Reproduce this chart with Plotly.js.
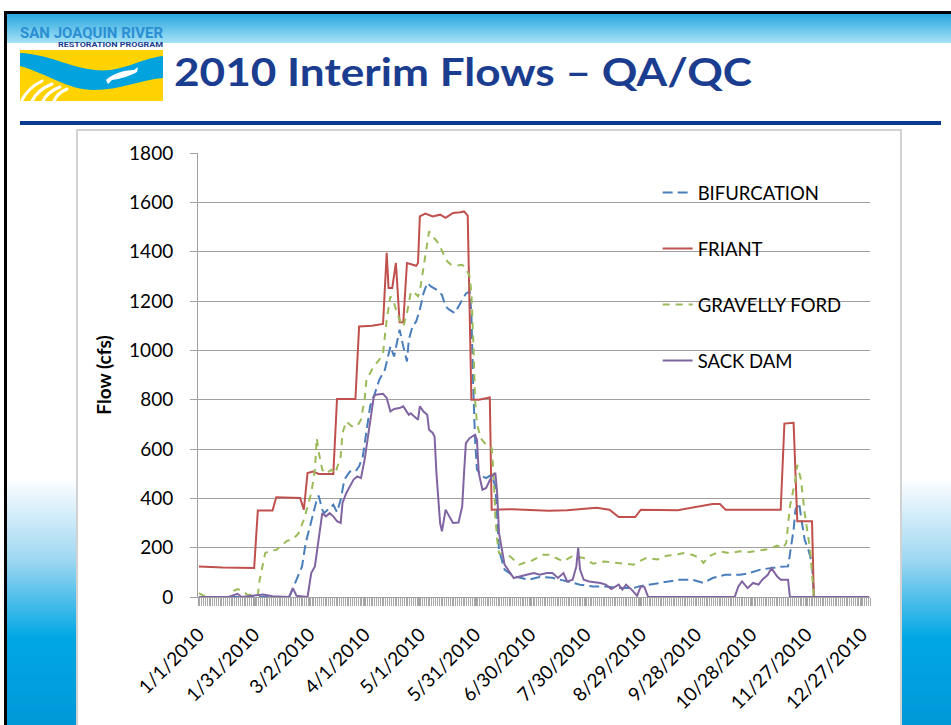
<!DOCTYPE html>
<html>
<head>
<meta charset="utf-8">
<script src="https://cdn.plot.ly/plotly-3.0.1.min.js"></script>
<style>
  html, body { margin: 0; padding: 0; background: #fff; }
  #slide { position: relative; width: 951px; height: 725px; overflow: hidden; background: #fff; }
  #deco { position: absolute; left: 0; top: 0; }
  #chart { position: absolute; left: 0; top: 0; width: 951px; height: 725px; }
</style>
</head>
<body>
<div id="slide">
<svg id="deco" width="951" height="725" xmlns="http://www.w3.org/2000/svg">
  <defs>
    <linearGradient id="topBand" x1="0" y1="0" x2="0" y2="1">
      <stop offset="0" stop-color="#27a6df"/>
      <stop offset="1" stop-color="#a6e2f6"/>
    </linearGradient>
    <linearGradient id="bottomBand" x1="0" y1="0" x2="0" y2="1">
      <stop offset="0" stop-color="#ffffff"/>
      <stop offset="0.03" stop-color="#ffffff"/>
      <stop offset="0.35" stop-color="#9fd7f2"/>
      <stop offset="0.66" stop-color="#00a7e3"/>
      <stop offset="1" stop-color="#0098d8"/>
    </linearGradient>
  </defs>
  <rect x="7" y="14" width="944" height="29" fill="url(#topBand)"/>
  <rect x="4" y="11" width="947" height="3" fill="#000"/>
  <rect x="4" y="11" width="3" height="714" fill="#000"/>
  <rect x="7" y="470" width="69" height="255" fill="url(#bottomBand)"/>
  <rect x="902" y="470" width="49" height="255" fill="url(#bottomBand)"/>
  <!-- logo -->
  <text x="20" y="37.5" font-family="Roboto, 'DejaVu Sans'" font-weight="bold" font-size="14" fill="#2a8fd2" textLength="143" lengthAdjust="spacingAndGlyphs">SAN JOAQUIN RIVER</text>
  <text x="58" y="47" font-family="Roboto, 'DejaVu Sans'" font-weight="bold" font-size="8" fill="#1b3d8f" textLength="105" lengthAdjust="spacingAndGlyphs">RESTORATION PROGRAM</text>
  <g transform="translate(20,50)">
    <rect x="0" y="0" width="143" height="51" fill="#ffd200"/>
    <path d="M0,3 C28,4 48,17 75,20 S118,9 143,6 L143,28 C120,30 100,40 74,40 S28,24 0,16 Z" fill="#00a3dd"/>
    <path d="M86,30 C92,24 104,20 114,20 L118,17 L117,22 C110,26 100,29 92,30 L88,34 Z" fill="#fff"/>
    <g stroke="#fff" stroke-width="3" fill="none" stroke-linecap="round">
      <path d="M2,50 C6,42 12,36 22,31"/>
      <path d="M12,51 C16,43 22,38 32,34"/>
      <path d="M23,51 C26,45 32,40 40,37"/>
      <path d="M34,51 C36,46 40,42 47,39"/>
    </g>
  </g>
  <text x="174" y="85.5" font-family="Lato, 'Open Sans'" font-weight="bold" font-size="39" fill="#1b3d8f" textLength="578" lengthAdjust="spacingAndGlyphs">2010 Interim Flows – QA/QC</text>
  <rect x="20" y="121" width="921" height="4" fill="#0b3a93"/>
  <rect x="77" y="130" width="824" height="610" fill="#fff" stroke="#d2d2d2" stroke-width="2"/>
</svg>
<div id="chart"></div>
</div>
<script>
// ---- data (day index: 0 = Jan 1, 2010) ----
const seriesNames = ["BIFURCATION", "FRIANT", "GRAVELLY FORD", "SACK DAM"];

const bifurcationDay = [0,49,50,53,56,58,61,64,65,67,68,70,73,75,77,79,82,85,87,89,91,93,95,98,101,103,104,106,108,109,111,113,114,116,118,120,122,124,126,129,132,134,136,139,141,143,145,147,148,149,150,151,154,156,159,161,162,163,166,171,179,185,192,200,207,214,221,229,236,239,247,254,261,268,274,279,286,294,299,305,310,315,320,321,323,324,326,327,329,331,333,334,364];
const bifurcationCfs = [0,0,16,70,124,219,313,394,411,354,340,354,374,344,394,476,509,509,530,570,678,773,813,881,921,989,1016,975,1043,1084,1016,955,1043,1097,1117,1165,1232,1273,1259,1246,1225,1178,1165,1151,1178,1205,1230,1239,1151,850,638,516,489,482,496,448,300,190,111,84,70,81,78,63,50,43,43,36,36,43,53,60,70,70,57,77,90,90,97,111,117,122,124,178,273,354,381,327,232,192,138,0,0];

const friantDay = [0,13,30,32,40,42,55,56,57,59,62,65,73,75,85,87,94,100,102,103,105,107,109,111,113,118,119,120,123,127,131,134,138,142,144,146,148,152,157,158,159,170,190,200,216,223,228,237,240,260,279,283,286,316,318,323,325,333,334,364];
const friantCfs = [124,120,118,351,351,404,401,380,354,503,509,499,499,803,803,1097,1100,1107,1395,1253,1253,1354,1114,1114,1354,1343,1354,1543,1554,1543,1550,1537,1557,1560,1563,1546,800,800,809,809,354,356,350,352,362,354,324,324,354,352,377,377,354,354,703,706,307,307,0,0];

const gravellyDay = [0,4,17,19,21,24,26,32,33,36,39,42,44,48,51,54,57,59,61,63,64,65,67,69,72,74,77,78,80,83,86,88,90,91,95,98,100,102,104,106,107,109,111,113,115,116,119,120,123,125,127,130,133,135,137,140,143,145,147,148,149,150,151,153,156,159,160,161,162,163,169,174,179,181,187,191,194,198,203,209,214,220,225,230,236,239,243,249,254,259,263,268,272,274,277,283,288,294,299,305,310,314,317,319,321,324,325,327,329,332,334,364];
const gravellyCfs = [16,0,0,25,32,25,10,8,70,178,189,190,205,228,234,257,313,367,421,516,644,590,516,500,516,500,570,665,712,692,692,719,800,881,935,962,989,1124,1219,1192,1165,1124,1097,1151,1232,1240,1219,1240,1381,1482,1462,1435,1388,1360,1347,1343,1347,1334,1300,1232,1043,800,705,644,617,604,503,327,232,178,165,131,145,148,171,171,158,144,167,158,135,144,140,135,131,144,158,152,167,171,178,171,158,138,165,185,178,185,182,189,195,208,198,219,367,476,536,476,340,192,0,0];

const sackDamDay = [0,16,21,23,29,35,40,49,51,53,59,61,63,65,67,69,71,73,75,77,78,80,82,84,86,88,90,92,94,95,96,100,102,104,106,109,111,114,115,117,119,120,122,124,125,127,128,129,131,132,134,135,138,141,143,144,145,147,150,151,152,154,156,159,161,162,163,166,171,178,182,185,189,192,195,198,200,203,205,206,207,209,212,218,221,224,228,230,232,235,238,240,242,244,291,293,295,298,301,304,306,309,311,314,316,320,321,364];
const sackDamCfs = [0,0,13,0,5,10,3,0,36,5,0,97,124,232,340,327,340,327,307,300,381,421,448,476,489,482,557,665,773,813,820,824,807,752,762,766,773,739,745,732,719,773,752,739,678,665,650,503,300,266,354,340,300,302,367,503,624,644,658,638,503,435,442,489,503,421,260,131,77,90,97,90,97,97,77,97,63,70,124,199,111,70,63,57,50,32,50,30,50,30,5,43,40,0,0,43,63,36,57,50,70,90,117,84,70,70,0,0];

const tickDates = ["2010-01-01","2010-01-31","2010-03-02","2010-04-01","2010-05-01","2010-05-31","2010-06-30","2010-07-30","2010-08-29","2010-09-28","2010-10-28","2010-11-27","2010-12-27"];
const tickLabels = ["1/1/2010","1/31/2010","3/2/2010","4/1/2010","5/1/2010","5/31/2010","6/30/2010","7/30/2010","8/29/2010","9/28/2010","10/28/2010","11/27/2010","12/27/2010"];
const yTicks = [0,200,400,600,800,1000,1200,1400,1600,1800];

// ---- build ----
function dayToDate(d) {
  return new Date(Date.UTC(2010, 0, 1) + d * 86400000).toISOString().slice(0, 10);
}
const colors = ["#4a7ebb", "#c0504d", "#9bbb59", "#8064a2"];
const dashes = ["10px,5px", "solid", "7px,6px", "solid"];
const dayArrays = [bifurcationDay, friantDay, gravellyDay, sackDamDay];
const cfsArrays = [bifurcationCfs, friantCfs, gravellyCfs, sackDamCfs];

const traces = seriesNames.map((name, i) => ({
  type: "scatter",
  mode: "lines",
  name: name,
  legendgroup: "g" + i,
  x: dayArrays[i].map(dayToDate),
  y: cfsArrays[i],
  line: { color: colors[i], width: 2, dash: dashes[i] },
  hoverinfo: "skip"
}));

const font = "Lato, 'Open Sans', sans-serif";
const layout = {
  width: 951,
  height: 725,
  margin: { l: 198, r: 81, t: 153, b: 128 },
  paper_bgcolor: "rgba(0,0,0,0)",
  plot_bgcolor: "rgba(0,0,0,0)",
  showlegend: true,
  legend: {
    x: 0.684, xanchor: "left",
    y: 0.953, yanchor: "top",
    bgcolor: "rgba(0,0,0,0)",
    font: { family: font, size: 18.5, color: "#000" },
    traceorder: "grouped",
    tracegroupgap: 29
  },
  xaxis: {
    type: "date",
    range: ["2009-12-31 12:00", "2010-12-31 12:00"],
    tickmode: "array",
    tickvals: tickDates,
    ticktext: tickLabels,
    tickangle: -45,
    ticks: "outside",
    ticklen: 8,
    tickcolor: "#a0a0a0",
    ticklabelstandoff: 10,
    minor: { dtick: 86400000, tick0: "2009-12-31 12:00", ticks: "outside", ticklen: 8, tickcolor: "#a8a8a8", showgrid: false },
    showgrid: false,
    showline: true,
    linecolor: "#a0a0a0",
    linewidth: 1,
    zeroline: false,
    tickfont: { family: font, size: 19, color: "#000" },
    fixedrange: true
  },
  yaxis: {
    range: [0, 1800],
    tickmode: "array",
    tickvals: yTicks,
    ticks: "outside",
    ticklen: 7,
    tickcolor: "#a0a0a0",
    ticklabelstandoff: 13,
    showgrid: true,
    gridcolor: "#a0a0a0",
    gridwidth: 1,
    showline: true,
    linecolor: "#a0a0a0",
    zeroline: false,
    tickfont: { family: font, size: 19, color: "#000" },
    title: { text: "Flow (cfs)", font: { family: font, size: 19, color: "#000", weight: "bold" }, standoff: 12 },
    fixedrange: true
  }
};

Plotly.newPlot("chart", traces, layout, { displayModeBar: false, staticPlot: true });
</script>
</body>
</html>
